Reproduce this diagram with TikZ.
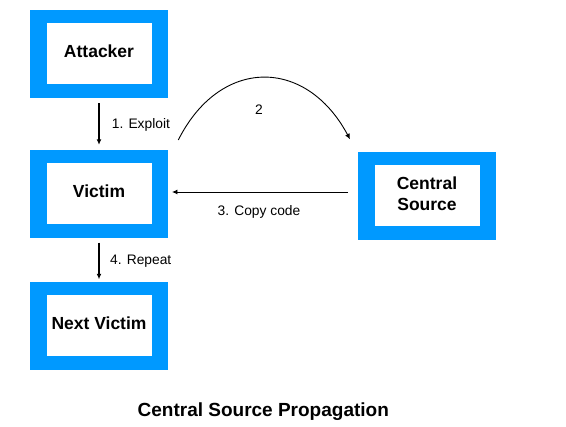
\documentclass[tikz,border=0pt]{standalone}
\usepackage{fontspec}
\setmainfont{Liberation Sans}
\usetikzlibrary{arrows.meta,calc}
\definecolor{boxblue}{HTML}{0099FF}
\tikzset{
  outerbox/.style={rectangle, fill=boxblue, minimum width=137.5pt, minimum height=88pt, inner sep=0pt},
  innerbox/.style={rectangle, fill=white, minimum width=105pt, minimum height=61pt, inner sep=0pt},
  boxtext/.style={align=center, inner sep=0pt, font=\fontsize{17.5}{21}\selectfont\bfseries},
  lbl/.style={font=\fontsize{13.8}{16}\selectfont, inner sep=0pt},
  arr/.style={-{Latex[length=5.5pt,width=5pt]}, line width=0.9pt},
  thickarr/.style={-{Latex[length=5.5pt,width=5pt]}, line width=1.4pt},
}
\begin{document}
\begin{tikzpicture}[x=1pt,y=-1pt]
\useasboundingbox (0,0) rectangle (566,427);
\fill[white] (0,0) rectangle (566,427);
% boxes
\node[outerbox] (att) at (99,54) {};
\node[innerbox] (att-in) at (99,54) {};
\node[boxtext] (att-t) at (99,51) {Attacker};
\node[outerbox] (vic) at (99,194) {};
\node[innerbox] (vic-in) at (99,194) {};
\node[boxtext] (vic-t) at (99,191.5) {Victim};
\node[outerbox] (nxt) at (99,326) {};
\node[innerbox] (nxt-in) at (99,326) {};
\node[boxtext] (nxt-t) at (99,323.3) {Next Victim};
\node[outerbox] (cen) at (427,196) {};
\node[innerbox] (cen-in) at (427,196) {};
\node[boxtext] (cen-t) at (427,193.5) {Central\\Source};
% connectors
\draw[thickarr, shorten <=5pt, shorten >=5pt] (att.south) -- (vic.north);
\node[lbl, anchor=west] (l1) at (111.7,125) {1. Exploit};
\draw[thickarr, shorten <=4.5pt, shorten >=2.5pt] (vic.south) -- (nxt.north);
\node[lbl, anchor=west] (l4) at (110,260.7) {4. Repeat};
\coordinate (cs) at ([xshift=-10pt,yshift=4pt]cen.west);
\draw[arr, shorten >=4pt] (cs) -- (cs -| vic.east);
\node[lbl] (l3) at (259,211.7) {3. Copy code};
\coordinate (c2s) at (178.3,140);
\coordinate (c2e) at (350,139.3);
\draw[arr] (c2s) .. controls (220,57) and (306,57) .. (c2e);
\node[lbl] (l2) at (259,110) {2};
\node[font=\fontsize{19}{23}\selectfont\bfseries, inner sep=0pt] (title) at (263.3,411.7) {Central Source Propagation};
\end{tikzpicture}
\end{document}
